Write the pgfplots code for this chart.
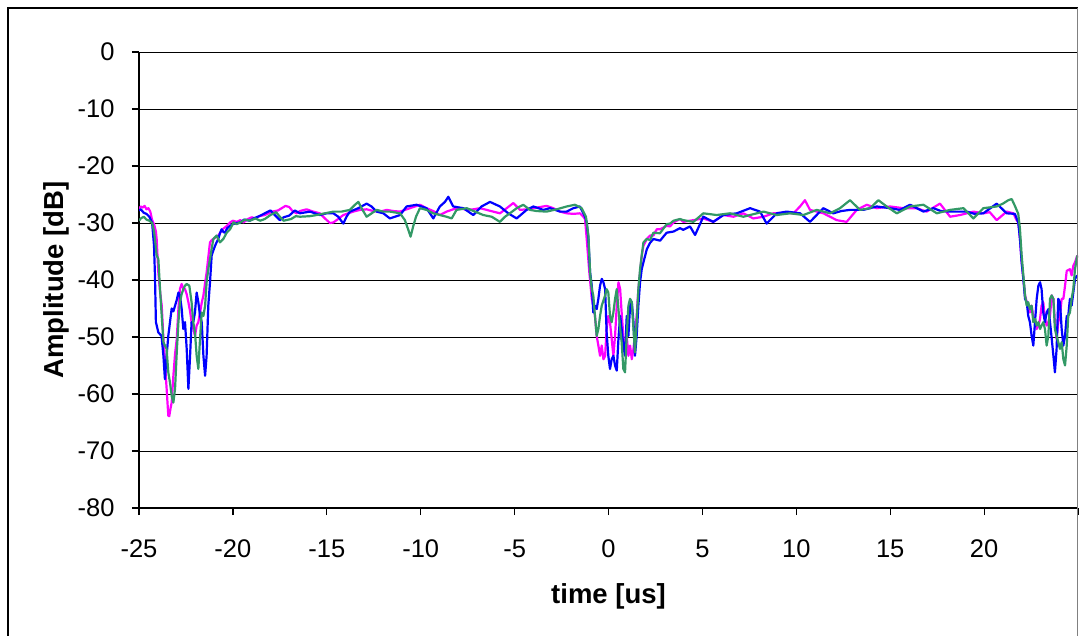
\documentclass[border=0pt]{standalone}
\usepackage{fontspec}
\setmainfont{Liberation Sans}
\usepackage{pgfplots}
\pgfplotsset{compat=1.18}
\definecolor{mag}{RGB}{255,0,255}
\definecolor{blu}{RGB}{0,0,255}
\definecolor{grn}{RGB}{51,153,102}
\begin{document}
\begin{tikzpicture}[x=1pt,y=1pt]
\path[use as bounding box] (0,0) rectangle (1081,635);
\begin{axis}[
 at={(139pt,127pt)}, anchor=south west,
 scale only axis, width=939pt, height=456pt,
 xmin=-25, xmax=25, ymin=-80, ymax=0,
 axis lines=left, axis line style={-, line width=1.3pt},
 xtick={-25,-20,...,25}, ytick={-80,-70,...,0},
 xticklabels={-25,-20,-15,-10,-5,0,5,10,15,20,{}},
 yticklabels={-80,-70,-60,-50,-40,-30,-20,-10,0},
 tick align=outside, major tick length=7pt,
 tick style={black, line width=1.2pt},
 ymajorgrids, grid style={black, line width=1pt},
 ticklabel style={font=\fontsize{25.5}{30}\selectfont},
 yticklabel style={xshift=-14pt},
 xticklabel style={yshift=-21pt},
 xlabel={time [us]}, ylabel={Amplitude [dB]},
 label style={font=\bfseries\fontsize{27.5}{32}\selectfont},
 xlabel style={at={(axis description cs:0.5,-0.193)}, anchor=center},
 ylabel style={at={(axis description cs:-0.0884,0.5)}, anchor=center},
 every axis plot/.append style={line width=2.2pt, line join=round, no markers},
]
\addplot[mag] coordinates {
(-25,-27.5)(-24.9,-27.1)(-24.8,-27.3)(-24.7,-27.0)(-24.6,-27.6)(-24.5,-27.4)(-24.4,-28.0)(-24.3,-29.5)(-24.2,-30.2)(-24.1,-31.5)(-24.06,-32.8)(-23.97,-38.7)(-23.88,-42)(-23.79,-44.5)(-23.70,-50.3)(-23.62,-54.4)(-23.53,-59)(-23.44,-63.8)(-23.39,-63.9)(-23.32,-62.5)(-23.26,-61.5)(-23.17,-56.8)(-23.08,-53)(-22.99,-50.3)(-22.9,-45)(-22.82,-41.6)(-22.73,-40.7)(-22.64,-41.5)(-22.55,-41.6)(-22.46,-42.5)(-22.37,-43.9)(-22.28,-45.5)(-22.2,-47.4)(-22.11,-48.5)(-22.02,-49.8)(-21.93,-48)(-21.84,-47.4)(-21.75,-45.7)(-21.66,-44)(-21.57,-42.7)(-21.48,-40.5)(-21.4,-38.7)(-21.31,-36)(-21.22,-33.4)(-21.13,-33.0)(-21.04,-32.8)(-20.9,-32.5)(-20.78,-32.2)(-20.65,-31.6)(-20.51,-31.0)(-20.35,-30.6)(-20.15,-29.9)(-20.0,-29.6)(-19.8,-29.8)(-19.6,-29.5)(-19.44,-29.9)(-19.2,-29.3)(-19.0,-29.0)(-18.8,-29.2)(-18.6,-28.8)(-18.3,-28.6)(-18.1,-28.3)(-17.9,-28.0)(-17.6,-27.8)(-17.4,-27.4)(-17.2,-27.0)(-17.0,-27.2)(-16.8,-28.0)(-16.6,-28.3)
(-16.43,-27.9)(-16.08,-27.6)(-15.72,-28.0)(-15.37,-28.3)(-15.1,-29.2)(-14.83,-30.0)(-14.65,-29.9)(-14.48,-29.5)(-14.12,-28.6)(-13.86,-28.3)(-13.59,-28.0)(-13.23,-27.7)(-12.88,-27.6)(-12.52,-27.9)(-12.17,-28.0)(-11.81,-27.7)(-11.46,-27.9)(-11.1,-28.0)(-10.84,-27.7)(-10.57,-27.4)(-10.31,-27.1)(-10.04,-26.8)(-9.69,-27.4)(-9.33,-27.9)(-8.98,-28.6)(-8.62,-28.0)(-8.27,-27.6)(-7.91,-27.4)(-7.55,-27.7)(-7.2,-27.6)(-6.84,-27.4)(-6.49,-27.7)(-6.14,-28.0)(-5.78,-28.3)(-5.42,-27.4)(-5.07,-26.5)(-4.71,-27.7)(-4.36,-27.6)(-4.0,-27.4)(-3.65,-27.2)(-3.29,-27.0)(-2.94,-27.4)(-2.58,-28.0)(-2.23,-28.3)(-1.87,-28.4)(-1.52,-28.3)(-1.34,-28.9)(-1.25,-29.3)
(-1.16,-32.8)(-1.02,-38.7)(-0.89,-43.3)(-0.81,-44.5)(-0.72,-46.3)(-0.63,-49.8)(-0.54,-51.5)(-0.45,-53.3)(-0.36,-51.5)(-0.27,-53.9)(-0.18,-53.3)(-0.1,-48.6)(-0.01,-46.3)(0.08,-47.4)(0.26,-53.3)(0.35,-49.8)(0.44,-44.5)(0.53,-40.4)(0.62,-41.6)(0.70,-45.7)(0.79,-49.8)(0.88,-52.7)(0.97,-49.8)(1.06,-53.3)(1.15,-51.5)(1.24,-53.9)(1.33,-52.1)(1.50,-46.3)(1.59,-41.6)(1.68,-38.7)(1.77,-35.7)(1.86,-34.0)(2.04,-32.8)(2.21,-32.2)(2.39,-32.2)(2.57,-31.1)(2.75,-31.1)(3.1,-30.5)(3.28,-30.6)(3.46,-29.9)(3.81,-29.3)
(3.98,-29.8)(4.52,-29.5)(5.05,-29.2)(5.58,-29.8)(6.12,-28.6)(6.65,-28.9)(7.18,-28.3)(7.71,-29.2)(8.25,-28.9)(8.78,-28.3)(9.31,-28.2)(9.84,-28.3)(10.2,-27.1)(10.46,-26.0)(10.73,-27.7)(11.09,-28.0)(11.44,-28.3)(11.8,-28.9)(12.15,-29.5)(12.68,-29.8)(13.22,-27.7)(13.75,-26.8)(14.28,-27.4)(14.99,-27.1)(15.7,-27.4)(16.41,-27.4)(16.94,-28.0)(17.65,-26.6)(18.19,-28.9)(18.72,-28.6)(19.43,-28.0)(19.96,-28.3)(20.3,-28.1)(20.67,-29.5)(21.2,-28.0)(21.56,-28.3)(21.73,-29.5)
(21.82,-29.9)(21.91,-32.8)(22.0,-36.9)(22.09,-39.8)(22.18,-42.7)(22.27,-43.9)(22.35,-45.1)(22.44,-45.7)(22.53,-44.5)(22.62,-46.3)(22.71,-47.4)(22.8,-48.6)(22.89,-48.0)(22.98,-46.8)(23.06,-44.5)(23.15,-43.9)(23.24,-46.8)(23.33,-48.0)(23.42,-47.4)(23.51,-46.3)(23.6,-42.7)(23.69,-43.3)(23.77,-47.4)(23.86,-50.3)(23.95,-47.4)(24.04,-46.3)(24.13,-43.3)(24.22,-43.3)(24.31,-41.0)(24.4,-38.4)(24.57,-38.1)(24.66,-39.2)(24.75,-37.5)(24.84,-36.9)(24.96,-35.7)
};
\addplot[blu] coordinates {
(-25,-27.8)(-24.9,-27.6)(-24.75,-28.2)(-24.6,-28.4)(-24.45,-28.9)(-24.3,-30.0)(-24.2,-34)(-24.15,-39.2)(-24.1,-47.4)(-23.97,-49.2)(-23.8,-49.8)(-23.7,-53.3)(-23.62,-57.4)(-23.53,-53.3)(-23.44,-49.8)(-23.35,-47.4)(-23.26,-45.0)(-23.17,-45.5)(-23.08,-44.5)(-22.99,-43.5)(-22.9,-42.2)(-22.82,-42.7)(-22.73,-45.0)(-22.64,-48.6)(-22.55,-47.4)(-22.46,-52.1)(-22.37,-59.1)(-22.28,-53.3)(-22.2,-47.4)(-22.11,-47.4)(-22.02,-45.7)(-21.93,-42.2)(-21.84,-43.9)(-21.75,-46.3)(-21.66,-47.4)(-21.57,-53.3)(-21.48,-56.8)(-21.4,-53.3)(-21.31,-44.5)(-21.22,-40.4)(-21.13,-35.7)(-21.04,-34.8)(-20.95,-34.0)(-20.87,-33.4)(-20.78,-32.8)(-20.69,-31.8)(-20.6,-31.1)(-20.5,-31.6)(-20.42,-31.7)(-20.3,-30.9)(-20.15,-30.5)(-20.0,-30.2)(-19.8,-30.0)(-19.6,-29.9)(-19.4,-29.4)(-19.1,-29.6)(-18.9,-29.2)(-18.6,-28.8)(-18.3,-28.3)(-18.0,-27.8)(-17.8,-28.5)(-17.5,-29.5)(-17.3,-29.0)(-17.0,-28.7)(-16.7,-27.8)
(-16.43,-28.3)(-15.9,-28.0)(-15.37,-28.6)(-15.01,-28.3)(-14.65,-28.3)(-14.39,-28.9)(-14.12,-30.1)(-13.95,-28.9)(-13.77,-28.0)(-13.32,-27.4)(-12.88,-26.6)(-12.62,-27.1)(-12.35,-28.0)(-11.99,-28.3)(-11.64,-29.2)(-11.1,-28.6)(-10.75,-27.1)(-10.22,-26.8)(-9.69,-27.4)(-9.33,-29.2)(-8.98,-27.1)(-8.71,-26.3)(-8.53,-25.4)(-8.27,-27.1)(-7.73,-27.4)(-7.2,-28.6)(-6.76,-27.1)(-6.31,-26.3)(-5.78,-27.1)(-5.34,-28.3)(-4.89,-29.2)(-4.36,-27.7)(-4.0,-27.1)(-3.47,-27.7)(-3.12,-27.4)(-2.58,-28.0)(-2.23,-28.0)(-1.87,-27.4)(-1.52,-27.1)(-1.25,-28.9)
(-1.16,-29.9)(-1.07,-32.8)(-0.98,-38.7)(-0.89,-41.0)(-0.81,-45.7)(-0.72,-44.5)(-0.63,-45.1)(-0.54,-43.3)(-0.45,-41.0)(-0.36,-39.8)(-0.27,-40.4)(-0.18,-41.6)(-0.1,-49.2)(-0.01,-53.3)(0.08,-55.6)(0.17,-53.9)(0.26,-53.3)(0.35,-55.0)(0.44,-55.9)(0.53,-50.3)(0.62,-46.3)(0.7,-48.6)(0.79,-51.5)(0.88,-53.3)(0.97,-46.3)(1.06,-49.8)(1.15,-44.5)(1.24,-43.9)(1.33,-47.4)(1.41,-53.3)(1.5,-49.8)(1.59,-44.5)(1.68,-40.4)(1.77,-38.1)(1.86,-36.9)(2.04,-34.6)(2.21,-33.5)(2.39,-32.8)(2.75,-33.1)(2.92,-32.4)(3.1,-31.7)(3.46,-31.5)(3.81,-30.9)
(3.98,-31.2)(4.34,-30.6)(4.61,-32.1)(5.05,-28.9)(5.58,-29.8)(6.12,-28.6)(6.83,-28.3)(7.54,-27.4)(8.07,-28.0)(8.42,-30.1)(8.96,-28.3)(9.49,-28.0)(10.2,-28.3)(10.73,-29.8)(11.44,-27.4)(11.97,-28.3)(12.4,-27.9)(12.86,-27.7)(13.57,-27.7)(14.28,-27.1)(14.99,-27.4)(15.52,-27.7)(16.06,-26.8)(16.77,-28.0)(17.3,-27.4)(17.7,-27.9)(18.19,-28.0)(19.07,-28.0)(19.5,-28.4)(19.96,-28.3)(20.67,-26.6)(21.2,-28.3)(21.64,-28.4)
(21.82,-29.9)(21.91,-32.8)(22.0,-36.9)(22.09,-39.8)(22.18,-43.3)(22.27,-43.9)(22.35,-46.3)(22.44,-47.4)(22.53,-49.8)(22.62,-51.5)(22.71,-47.4)(22.8,-43.3)(22.89,-41.0)(22.98,-40.4)(23.06,-41.6)(23.15,-45.7)(23.24,-47.4)(23.33,-45.7)(23.42,-45.1)(23.51,-47.4)(23.6,-50.3)(23.69,-53.3)(23.77,-56.2)(23.86,-52.1)(23.95,-43.3)(24.04,-43.9)(24.13,-48.6)(24.22,-51.5)(24.31,-49.8)(24.4,-46.3)(24.48,-46.3)(24.57,-43.3)(24.66,-44.5)(24.75,-42.2)(24.84,-39.8)(24.96,-39.2)
};
\addplot[grn] coordinates {
(-25,-29.6)(-24.9,-29.2)(-24.75,-28.9)(-24.6,-29.4)(-24.45,-29.6)(-24.3,-30.0)(-24.2,-31.5)(-24.15,-32.8)(-24.06,-35.7)(-23.97,-36.3)(-23.88,-41.6)(-23.79,-46.3)(-23.7,-50.9)(-23.62,-51.5)(-23.53,-52.1)(-23.44,-56.2)(-23.35,-58.0)(-23.26,-60.3)(-23.17,-61.5)(-23.08,-59.1)(-22.99,-52.7)(-22.9,-47.4)(-22.82,-43.9)(-22.73,-42.5)(-22.64,-41.6)(-22.55,-41.0)(-22.46,-40.7)(-22.32,-41.0)(-22.2,-43.9)(-22.11,-47.4)(-22.02,-49.2)(-21.93,-53.3)(-21.84,-55.6)(-21.75,-50.3)(-21.66,-45.7)(-21.57,-46.3)(-21.48,-44.5)(-21.4,-40.4)(-21.31,-38.1)(-21.22,-36.3)(-21.13,-34.5)(-21.04,-32.8)(-20.87,-32.2)(-20.69,-33.4)(-20.51,-32.8)(-20.33,-31.7)(-20.15,-31.1)(-19.97,-29.9)(-19.8,-30.2)(-19.6,-29.9)(-19.35,-29.4)(-19.1,-29.6)(-18.8,-29.2)(-18.55,-29.6)(-18.3,-29.3)(-18.0,-28.6)(-17.7,-28.1)(-17.5,-28.9)(-17.3,-29.6)(-16.9,-29.3)(-16.65,-28.8)
(-16.43,-28.9)(-15.9,-28.8)(-15.54,-28.6)(-15.1,-28.3)(-14.65,-28.0)(-14.21,-28.0)(-13.77,-27.7)(-13.5,-26.8)(-13.32,-26.3)(-13.15,-27.4)(-12.88,-28.9)(-12.61,-28.3)(-12.35,-27.7)(-11.99,-28.0)(-11.64,-28.0)(-11.1,-28.3)(-10.84,-29.5)(-10.66,-31.2)(-10.54,-32.4)(-10.4,-30.6)(-10.25,-28.9)(-10.04,-27.4)(-9.69,-27.7)(-9.33,-28.3)(-8.98,-28.6)(-8.62,-28.9)(-8.35,-29.2)(-8.09,-27.7)(-7.55,-27.4)(-7.11,-28.0)(-6.67,-28.6)(-6.22,-28.9)(-5.78,-29.8)(-5.51,-28.9)(-5.25,-28.3)(-4.89,-27.4)(-4.54,-26.8)(-4.18,-27.7)(-3.83,-27.9)(-3.3,-28.0)(-2.76,-27.6)(-2.23,-27.1)(-1.79,-26.8)(-1.43,-27.4)(-1.2,-28.9)
(-1.07,-32.2)(-0.98,-38.7)(-0.89,-41.6)(-0.81,-42.7)(-0.72,-46.3)(-0.63,-49.8)(-0.54,-48.6)(-0.45,-46.3)(-0.36,-44.5)(-0.18,-42.7)(-0.1,-41.6)(-0.01,-42.2)(0.08,-46.3)(0.17,-47.4)(0.26,-45.7)(0.35,-43.3)(0.44,-41.6)(0.53,-45.1)(0.62,-48.6)(0.7,-50.9)(0.79,-55.6)(0.88,-56.2)(0.97,-49.8)(1.06,-44.5)(1.15,-43.3)(1.24,-43.9)(1.33,-48.6)(1.41,-52.7)(1.5,-47.4)(1.59,-41.6)(1.68,-38.1)(1.77,-35.7)(1.86,-33.4)(2.04,-32.8)(2.21,-33.0)(2.39,-31.7)(2.74,-31.8)(3.1,-30.2)(3.28,-30.1)(3.46,-29.6)(3.81,-29.3)
(3.98,-29.5)(4.52,-29.8)(5.05,-28.3)(5.76,-28.6)(6.47,-28.3)(7.18,-28.9)(7.54,-28.6)(8.25,-28.0)(8.96,-28.6)(9.67,-28.3)(10.38,-28.6)(11.09,-27.7)(11.8,-28.3)(12.33,-27.4)(12.86,-26.0)(13.39,-27.7)(13.93,-27.4)(14.37,-26.0)(14.81,-27.1)(15.35,-28.3)(16.06,-27.1)(16.77,-26.8)(17.48,-28.3)(18.19,-27.7)(18.9,-27.4)(19.43,-29.2)(19.96,-27.4)(20.67,-27.1)(21.0,-26.6)(21.29,-26.0)(21.47,-25.8)(21.64,-27.0)
(21.82,-28.4)(21.91,-31.1)(22.0,-35.7)(22.09,-39.2)(22.18,-42.7)(22.27,-44.5)(22.35,-43.9)(22.44,-45.1)(22.53,-44.5)(22.62,-47.4)(22.71,-46.8)(22.8,-48.0)(22.89,-47.4)(22.98,-48.6)(23.06,-48.0)(23.15,-47.4)(23.24,-48.6)(23.33,-51.5)(23.42,-49.8)(23.51,-43.3)(23.6,-42.7)(23.69,-43.3)(23.77,-48.6)(23.86,-49.8)(23.95,-50.9)(24.04,-52.1)(24.13,-50.9)(24.22,-53.9)(24.31,-55.0)(24.4,-51.5)(24.48,-46.3)(24.57,-45.7)(24.66,-43.3)(24.75,-41.6)(24.84,-38.1)(24.93,-36.3)(24.96,-35.7)
};
\end{axis}
\draw[black, line width=1.5pt] (8,-5) -- (8,627) -- (1077.5,627);
\draw[gray, line width=1.5pt] (1077.5,627) -- (1077.5,-5);
\end{tikzpicture}
\end{document}
